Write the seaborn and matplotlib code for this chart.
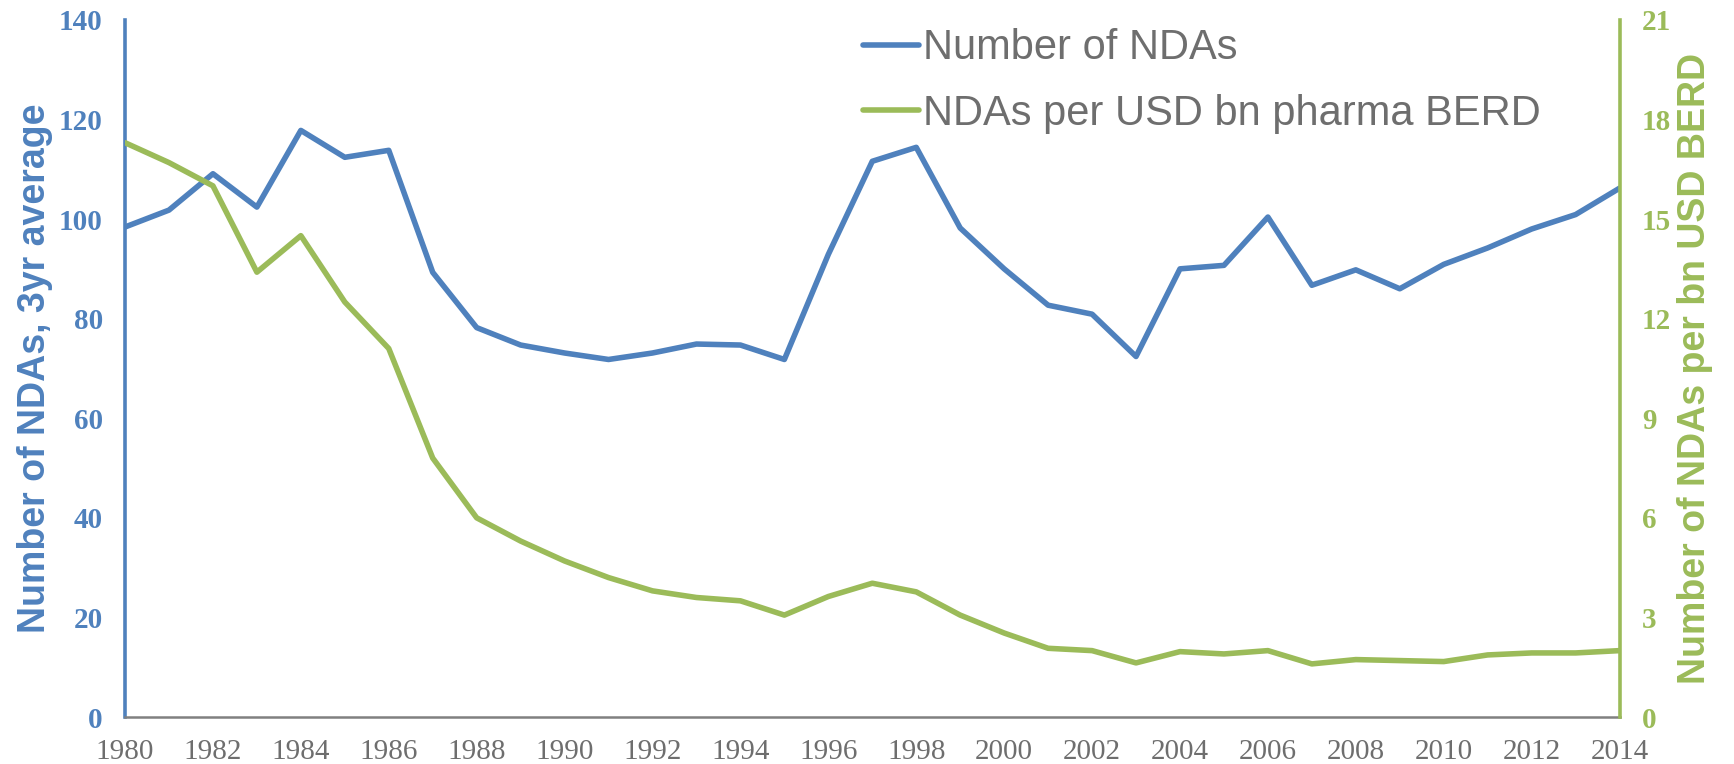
import numpy as np
import pandas as pd
import matplotlib
matplotlib.use("Agg")
import matplotlib.pyplot as plt
import seaborn as sns

# data
years = list(range(1980, 2015))
ndas_3yr = [98.4, 101.8, 109.1, 102.4, 117.8, 112.4, 113.8, 89.3, 78.2, 74.7,
            73.1, 71.8, 73.1, 74.9, 74.7, 71.8, 92.9, 111.6, 114.4, 98.2,
            90.0, 82.7, 80.9, 72.4, 90.0, 90.7, 100.4, 86.7, 89.8, 86.0,
            90.9, 94.2, 98.0, 100.9, 106.2]
ndas_per_berd = [17.3, 16.7, 16.0, 13.4, 14.5, 12.5, 11.1, 7.8, 6.0, 5.3,
                 4.7, 4.2, 3.8, 3.6, 3.5, 3.07, 3.63, 4.03, 3.77, 3.07,
                 2.53, 2.07, 2.0, 1.63, 1.97, 1.9, 2.0, 1.6, 1.73, 1.7,
                 1.67, 1.87, 1.93, 1.93, 2.0]
left_ticks = [0, 20, 40, 60, 80, 100, 120, 140]
right_ticks = [0, 3, 6, 9, 12, 15, 18, 21]
x_ticks = list(range(1980, 2015, 2))

df = pd.DataFrame({"year": years, "ndas": ndas_3yr, "per_berd": ndas_per_berd})

blue = "#4F81BD"
green = "#9BBB59"
grey = "#6E6E6E"

sns.set_style("white")
narrow = ["Liberation Sans Narrow", "Liberation Sans", "DejaVu Sans"]
serif = ["Liberation Serif", "DejaVu Serif"]

fig = plt.figure(figsize=(17.34, 7.64), dpi=100)
ax = fig.add_axes([0.0721, 0.0615, 0.8619, 0.9125])
ax2 = ax.twinx()

sns.lineplot(data=df, x="year", y="ndas", ax=ax, color=blue, linewidth=4,
             label="Number of NDAs", legend=False)
sns.lineplot(data=df, x="year", y="per_berd", ax=ax2, color=green, linewidth=4,
             label="NDAs per USD bn pharma BERD", legend=False)

ax.set_xlim(1980, 2014)
ax.set_ylim(0, 140)
ax2.set_ylim(0, 21)
ax.set_xticks(x_ticks)
ax.set_yticks(left_ticks)
ax2.set_yticks(right_ticks)

for a in (ax, ax2):
    for s in a.spines.values():
        s.set_visible(False)
ax.spines["left"].set_visible(True)
ax.spines["left"].set_color(blue)
ax.spines["left"].set_linewidth(2.6)
ax.spines["bottom"].set_visible(True)
ax.spines["bottom"].set_color("#808080")
ax.spines["bottom"].set_linewidth(1.8)
ax2.spines["right"].set_visible(True)
ax2.spines["right"].set_color(green)
ax2.spines["right"].set_linewidth(2.6)

ax.tick_params(axis="both", length=0)
ax2.tick_params(axis="both", length=0)
ax.tick_params(axis="x", pad=16)
ax.tick_params(axis="y", pad=16)
ax2.tick_params(axis="y", pad=16)

ax.set_xticklabels([str(y) for y in x_ticks], family=serif, fontsize=21, color=grey)
ax.set_yticklabels([str(v) for v in left_ticks], family=serif, fontsize=21,
                   color=blue, fontweight="bold")
ax2.set_yticklabels([str(v) for v in right_ticks], family=serif, fontsize=21,
                    color=green, fontweight="bold")

ax.set_xlabel("")
ax.set_ylabel("Number of NDAs, 3yr average", family=narrow, fontsize=27,
              color=blue, fontweight="bold", labelpad=4)
ax2.set_ylabel("Number of NDAs per bn USD BERD", family=narrow, fontsize=27,
               color=green, fontweight="bold", labelpad=4)

h1, l1 = ax.get_legend_handles_labels()
h2, l2 = ax2.get_legend_handles_labels()
leg = ax2.legend(h1 + h2, l1 + l2, loc="upper left", bbox_to_anchor=(0.488, 0.985),
                 bbox_transform=fig.transFigure, frameon=False, handlelength=1.35,
                 handletextpad=0.1, labelspacing=0.62, borderaxespad=0,
                 prop={"family": narrow, "size": 30})
for t in leg.get_texts():
    t.set_color(grey)

fig.savefig("out.png", dpi=100)
